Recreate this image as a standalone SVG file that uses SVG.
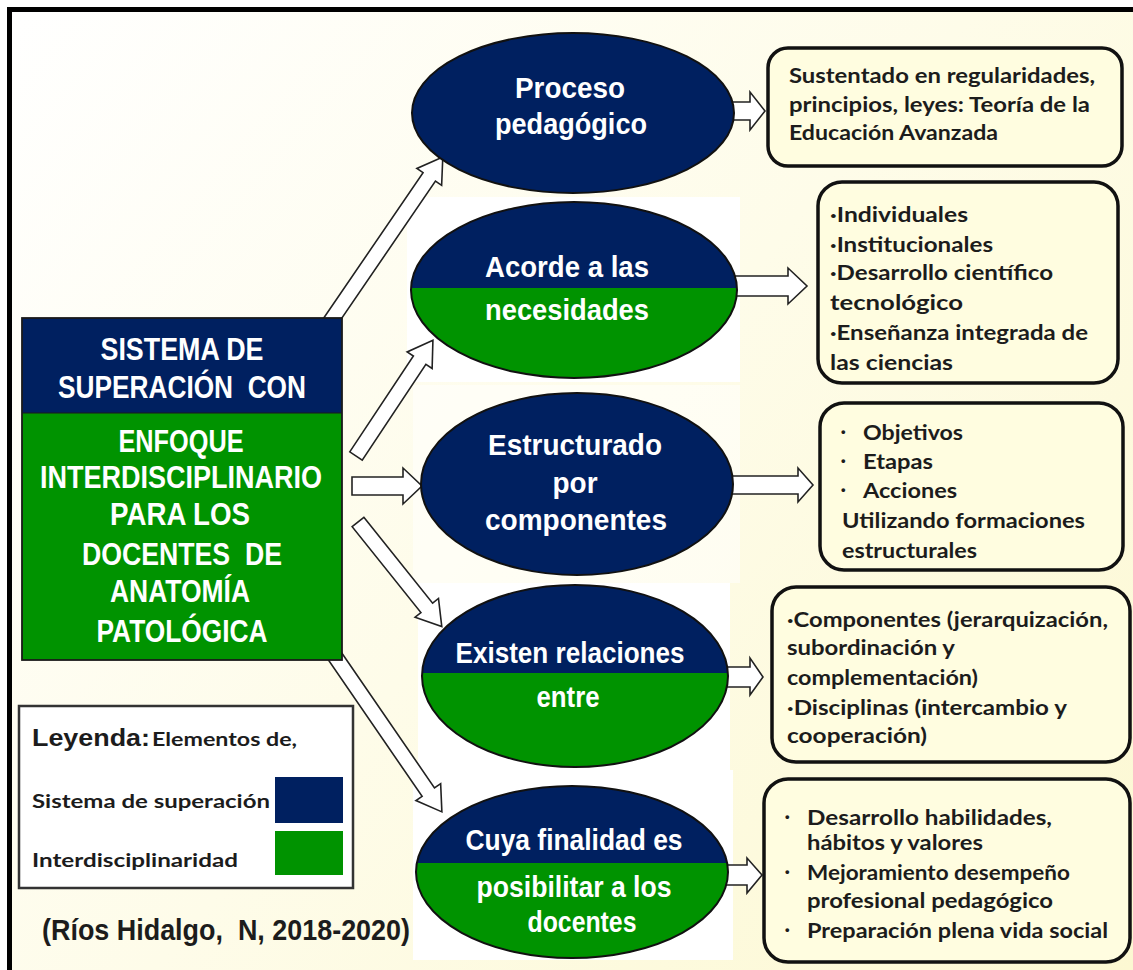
<svg xmlns="http://www.w3.org/2000/svg" width="1133" height="970" viewBox="0 0 1133 970">
<defs>
<linearGradient id="bg" gradientUnits="userSpaceOnUse" x1="0" y1="0" x2="1133" y2="970">
<stop offset="0" stop-color="#ffffff"/>
<stop offset="0.5" stop-color="#fefce9"/>
<stop offset="1" stop-color="#fcf8d2"/>
</linearGradient>
<clipPath id="c2"><ellipse cx="574" cy="290" rx="163" ry="88"/></clipPath>
<clipPath id="c4"><ellipse cx="575" cy="676" rx="153" ry="91"/></clipPath>
<clipPath id="c5"><ellipse cx="572" cy="872" rx="156" ry="86"/></clipPath>
<style>
.navy{fill:#002060}
.green{fill:#009300}
.eo{fill:none;stroke:#111;stroke-width:2}
.ef{fill:#002060;stroke:#111;stroke-width:2}
.wt{fill:#ffffff;font-family:"Liberation Sans Narrow","Liberation Sans",Arial,sans-serif;font-weight:bold;font-size:29px;text-anchor:middle}
.mt{fill:#ffffff;font-family:"Liberation Sans Narrow","Liberation Sans",Arial,sans-serif;font-weight:bold;font-size:31px;text-anchor:middle}
.box{fill:#fffde0;stroke:#111;stroke-width:3.5}
.bt{fill:#1c1c1c;font-family:Lato,"Liberation Sans",sans-serif;font-weight:bold;font-size:21px}
.bu{fill:#1c1c1c;font-family:"Liberation Sans",sans-serif;font-weight:bold;font-size:13px}
.arr{fill:#ffffff;stroke:#222;stroke-width:1.6;stroke-linejoin:miter}
.lg{fill:#1c1c1c;font-family:Lato,"Liberation Sans",sans-serif;font-weight:bold;font-size:19px}
</style>
</defs>
<rect x="0" y="0" width="1133" height="970" fill="#ffffff"/>
<rect x="9.5" y="9.5" width="1200" height="1000" fill="url(#bg)" stroke="#000" stroke-width="5"/>

<g id="image-backgrounds">
<rect x="407" y="197" width="333" height="185" fill="#ffffff"/>
<rect x="413" y="385" width="327" height="198" fill="#ffffff" opacity="0.5"/>
<rect x="418" y="583" width="312" height="187" fill="#ffffff"/>
<rect x="413" y="770" width="320" height="190" fill="#ffffff"/>
</g>

<g id="connectors">
<path class="arr" transform="translate(326,328) rotate(-55.65)" d="M0,-7.5 L183,-7.5 L183,-15 L207,0 L183,15 L183,7.5 L0,7.5 Z"/>
<path class="arr" transform="translate(356,456) rotate(-56.4)" d="M0,-7.5 L115,-7.5 L115,-15 L139,0 L115,15 L115,7.5 L0,7.5 Z"/>
<path class="arr" d="M352,477 H403 V468 L422,486 L403,504 V495 H352 Z"/>
<path class="arr" transform="translate(358,522) rotate(51.3)" d="M0,-7.5 L110,-7.5 L110,-15 L134,0 L110,15 L110,7.5 L0,7.5 Z"/>
<path class="arr" transform="translate(332,652) rotate(55.5)" d="M0,-7.5 L170,-7.5 L170,-15 L194,0 L170,15 L170,7.5 L0,7.5 Z"/>
<path class="arr" d="M728,102 H750 V92 L765,111 L750,130 V120 H728 Z"/>
<path class="arr" d="M735,276 H788 V268 L807,286 L788,304 V296 H735 Z"/>
<path class="arr" d="M728,476 H798 V468 L813,485 L798,502 V494 H728 Z"/>
<path class="arr" d="M724,667 H750 V658 L763,677 L750,695 V687 H724 Z"/>
<path class="arr" d="M724,865 H747 V858 L762,875 L747,893 V885 H724 Z"/>
</g>

<g id="main">
<rect x="22" y="318" width="320" height="95" class="navy"/>
<rect x="22" y="413" width="320" height="247" class="green"/>
<rect x="22" y="318" width="320" height="342" fill="none" stroke="#1a1a1a" stroke-width="1.8"/>
<line x1="22" y1="413" x2="342" y2="413" stroke="#1a1a1a" stroke-width="1.2"/>
<text class="mt" x="182" y="360" textLength="163" lengthAdjust="spacingAndGlyphs">SISTEMA DE</text>
<text class="mt" x="182" y="398" textLength="248" lengthAdjust="spacingAndGlyphs">SUPERACIÓN&#160; CON</text>
<text class="mt" x="181" y="452" textLength="125" lengthAdjust="spacingAndGlyphs">ENFOQUE</text>
<text class="mt" x="181" y="488" textLength="282" lengthAdjust="spacingAndGlyphs">INTERDISCIPLINARIO</text>
<text class="mt" x="180" y="525" textLength="140" lengthAdjust="spacingAndGlyphs">PARA LOS</text>
<text class="mt" x="182" y="565" textLength="200" lengthAdjust="spacingAndGlyphs">DOCENTES&#160; DE</text>
<text class="mt" x="180" y="602" textLength="140" lengthAdjust="spacingAndGlyphs">ANATOMÍA</text>
<text class="mt" x="182" y="642" textLength="171" lengthAdjust="spacingAndGlyphs">PATOLÓGICA</text>
</g>

<g id="e1">
<ellipse cx="573" cy="113" rx="161" ry="80" class="ef"/>
<text class="wt" x="570" y="98" textLength="110" lengthAdjust="spacingAndGlyphs">Proceso</text>
<text class="wt" x="571" y="134" textLength="152" lengthAdjust="spacingAndGlyphs">pedagógico</text>
</g>

<g id="e2">
<g clip-path="url(#c2)">
<rect x="400" y="200" width="350" height="88" class="navy"/>
<rect x="400" y="288" width="350" height="92" class="green"/>
</g>
<ellipse cx="574" cy="290" rx="163" ry="88" class="eo"/>
<text class="wt" x="567" y="277" textLength="164" lengthAdjust="spacingAndGlyphs">Acorde a las</text>
<text class="wt" x="567" y="320" textLength="164" lengthAdjust="spacingAndGlyphs">necesidades</text>
</g>

<g id="e3">
<ellipse cx="577" cy="484" rx="156" ry="91" class="ef"/>
<text class="wt" x="575" y="455" textLength="174" lengthAdjust="spacingAndGlyphs">Estructurado</text>
<text class="wt" x="575" y="493" textLength="45" lengthAdjust="spacingAndGlyphs">por</text>
<text class="wt" x="576" y="530" textLength="182" lengthAdjust="spacingAndGlyphs">componentes</text>
</g>

<g id="e4">
<g clip-path="url(#c4)">
<rect x="410" y="580" width="330" height="93" class="navy"/>
<rect x="410" y="673" width="330" height="100" class="green"/>
</g>
<ellipse cx="575" cy="676" rx="153" ry="91" class="eo"/>
<text class="wt" x="570" y="663" textLength="229" lengthAdjust="spacingAndGlyphs">Existen relaciones</text>
<text class="wt" x="568" y="707" textLength="63" lengthAdjust="spacingAndGlyphs">entre</text>
</g>

<g id="e5">
<g clip-path="url(#c5)">
<rect x="405" y="780" width="340" height="83" class="navy"/>
<rect x="405" y="863" width="340" height="100" class="green"/>
</g>
<ellipse cx="572" cy="872" rx="156" ry="86" class="eo"/>
<text class="wt" x="574" y="850" textLength="217" lengthAdjust="spacingAndGlyphs">Cuya finalidad es</text>
<text class="wt" x="574" y="897" textLength="195" lengthAdjust="spacingAndGlyphs">posibilitar a los</text>
<text class="wt" x="582" y="932" textLength="109" lengthAdjust="spacingAndGlyphs">docentes</text>
</g>

<g id="b1">
<rect x="768" y="48" width="354" height="118" rx="20" class="box"/>
<text class="bt" x="789" y="83" textLength="306" lengthAdjust="spacingAndGlyphs">Sustentado en regularidades,</text>
<text class="bt" x="789" y="112" textLength="301" lengthAdjust="spacingAndGlyphs">principios, leyes: Teoría de la</text>
<text class="bt" x="789" y="140" textLength="209" lengthAdjust="spacingAndGlyphs">Educación Avanzada</text>
</g>

<g id="b2">
<rect x="818" y="182" width="300" height="201" rx="24" class="box"/>
<text class="bt" x="830" y="222" textLength="138" lengthAdjust="spacingAndGlyphs">·Individuales</text>
<text class="bt" x="830" y="252" textLength="163" lengthAdjust="spacingAndGlyphs">·Institucionales</text>
<text class="bt" x="830" y="280" textLength="223" lengthAdjust="spacingAndGlyphs">·Desarrollo científico</text>
<text class="bt" x="830" y="310" textLength="133" lengthAdjust="spacingAndGlyphs">tecnológico</text>
<text class="bt" x="830" y="340" textLength="258" lengthAdjust="spacingAndGlyphs">·Enseñanza integrada de</text>
<text class="bt" x="830" y="370" textLength="123" lengthAdjust="spacingAndGlyphs">las ciencias</text>
</g>

<g id="b3">
<rect x="820" y="403" width="303" height="167" rx="24" class="box"/>
<text class="bu" x="841" y="436">•</text>
<text class="bt" x="863" y="440" textLength="100" lengthAdjust="spacingAndGlyphs">Objetivos</text>
<text class="bu" x="841" y="465">•</text>
<text class="bt" x="863" y="469" textLength="70" lengthAdjust="spacingAndGlyphs">Etapas</text>
<text class="bu" x="841" y="494">•</text>
<text class="bt" x="863" y="498" textLength="94" lengthAdjust="spacingAndGlyphs">Acciones</text>
<text class="bt" x="842" y="528" textLength="243" lengthAdjust="spacingAndGlyphs">Utilizando formaciones</text>
<text class="bt" x="842" y="558" textLength="135" lengthAdjust="spacingAndGlyphs">estructurales</text>
</g>

<g id="b4">
<rect x="772" y="587" width="358" height="175" rx="24" class="box"/>
<text class="bt" x="787" y="627" textLength="321" lengthAdjust="spacingAndGlyphs">·Componentes (jerarquización,</text>
<text class="bt" x="787" y="655" textLength="168" lengthAdjust="spacingAndGlyphs">subordinación y</text>
<text class="bt" x="787" y="685" textLength="191" lengthAdjust="spacingAndGlyphs">complementación)</text>
<text class="bt" x="787" y="715" textLength="280" lengthAdjust="spacingAndGlyphs">·Disciplinas (intercambio y</text>
<text class="bt" x="787" y="743" textLength="140" lengthAdjust="spacingAndGlyphs">cooperación)</text>
</g>

<g id="b5">
<rect x="764" y="779" width="366" height="183" rx="24" class="box"/>
<text class="bu" x="785" y="821">•</text>
<text class="bt" x="807" y="825" textLength="245" lengthAdjust="spacingAndGlyphs">Desarrollo habilidades,</text>
<text class="bt" x="807" y="850" textLength="176" lengthAdjust="spacingAndGlyphs">hábitos y valores</text>
<text class="bu" x="785" y="876">•</text>
<text class="bt" x="807" y="880" textLength="263" lengthAdjust="spacingAndGlyphs">Mejoramiento desempeño</text>
<text class="bt" x="807" y="908" textLength="246" lengthAdjust="spacingAndGlyphs">profesional pedagógico</text>
<text class="bu" x="785" y="934">•</text>
<text class="bt" x="807" y="938" textLength="301" lengthAdjust="spacingAndGlyphs">Preparación plena vida social</text>
</g>

<g id="legend">
<rect x="19" y="706" width="334" height="182" fill="#ffffff" stroke="#333" stroke-width="2.5"/>
<text x="32" y="746" fill="#1c1c1c" font-family="'Liberation Sans',Arial,sans-serif" font-weight="bold" font-size="23" textLength="118" lengthAdjust="spacingAndGlyphs">Leyenda:</text>
<text class="lg" x="152" y="746" font-size="18" textLength="145" lengthAdjust="spacingAndGlyphs">Elementos de,</text>
<text class="lg" x="32" y="808" textLength="238" lengthAdjust="spacingAndGlyphs">Sistema de superación</text>
<rect x="275" y="777" width="68" height="46" class="navy"/>
<text class="lg" x="32" y="867" textLength="206" lengthAdjust="spacingAndGlyphs">Interdisciplinaridad</text>
<rect x="275" y="831" width="68" height="44" class="green"/>
</g>

<g id="citation">
<text x="42" y="940" fill="#1c1c1c" font-family="'Liberation Sans Narrow','Liberation Sans',Arial,sans-serif" font-weight="bold" font-size="30" textLength="368" lengthAdjust="spacingAndGlyphs">(Ríos Hidalgo,&#160; N, 2018-2020)</text>
</g>
</svg>
